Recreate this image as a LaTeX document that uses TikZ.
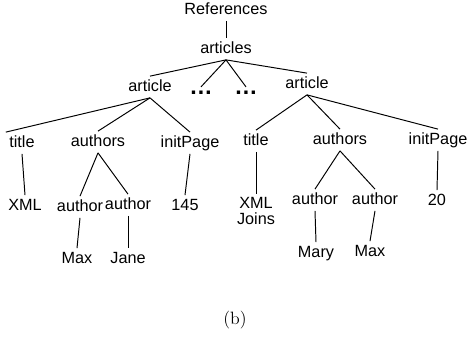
\documentclass[tikz,border=0pt]{standalone}
\usepackage{fontspec}
\setsansfont{Liberation Sans}

\tikzset{
  tag/.style={font=\sffamily, inner sep=2pt, text height=7.2pt, text depth=1.8pt},
  longtag/.style={font=\sffamily\linespread{0.8}\selectfont, inner sep=2pt, align=center},
  more/.style={font=\sffamily\bfseries\Large, inner sep=2.5pt},
  edge/.style={black, line width=0.6pt},
}

\begin{document}
\begin{tikzpicture}[x=0.616pt,y=-0.616pt]
        \useasboundingbox (0,0) rectangle (470,338);

        \node[tag] (refs) at (226,10) {References};
        \node[tag] (arts) at (226,49) {articles};
        \node[tag] (art1) at (150,87) {article};
        \node[more] (dots1) at (201,93) {\ldots};
        \node[more] (dots2) at (246,93) {\ldots};
        \node[tag] (art2) at (307,84) {article};

        \node[tag] (title1) at (22,143) {title};
        \node[tag] (auths1) at (98,142) {authors};
        \node[tag] (page1) at (190,143) {initPage};
        \node[tag] (xml1) at (25,206) {XML};
        \node[tag] (auth11) at (80,207) {author};
        \node[tag] (auth12) at (128,205) {author};
        \node[tag] (num1) at (185,206) {145};
        \node[tag] (max1) at (77,259) {Max};
        \node[tag] (jane) at (128,259) {Jane};

        \node[tag] (title2) at (256,141) {title};
        \node[tag] (auths2) at (340,140) {authors};
        \node[tag] (page2) at (438,140) {initPage};
        \node[longtag, anchor=north] (xml2) at (256,194) {XML\\Joins};
        \node[tag] (auth21) at (315,200) {author};
        \node[tag] (auth22) at (375,200) {author};
        \node[tag] (num2) at (437,201) {20};
        \node[tag] (mary) at (316,253) {Mary};
        \node[tag] (max2) at (370,252) {Max};

        \node[font=\fontsize{11}{13}\selectfont] (cap) at (235,320) {(b)};

        \draw[edge] (refs.south) -- (arts.north);
        \draw[edge] (arts.south) -- (art1.north);
        \draw[edge] (arts.south) -- (dots1.north);
        \draw[edge] (arts.south) -- (dots2.north);
        \draw[edge] (arts.south) -- (art2.north);

        \draw[edge] (art1.south) -- (title1.north west);
        \draw[edge] (art1.south) -- (auths1.north);
        \draw[edge] (art1.south) -- (page1.north);
        \draw[edge] (title1.south) -- (xml1.north);
        \draw[edge] (auths1.south) -- (auth11.north);
        \draw[edge] (auths1.south) -- (auth12.north);
        \draw[edge] (page1.south) -- (num1.north);
        \draw[edge] (auth11.south) -- (max1.north);
        \draw[edge] (auth12.south) -- (jane.north);

        \draw[edge] (art2.south) -- (title2.north);
        \draw[edge] (art2.south) -- (auths2.north);
        \draw[edge] (art2.south) -- (page2.north);
        \draw[edge] (title2.south) -- (xml2.north);
        \draw[edge] (auths2.south) -- (auth21.north);
        \draw[edge] (auths2.south) -- (auth22.north);
        \draw[edge] (page2.south) -- (num2.north);
        \draw[edge] (auth21.south) -- (mary.north);
        \draw[edge] (auth22.south) -- (max2.north);
\end{tikzpicture}
\end{document}
